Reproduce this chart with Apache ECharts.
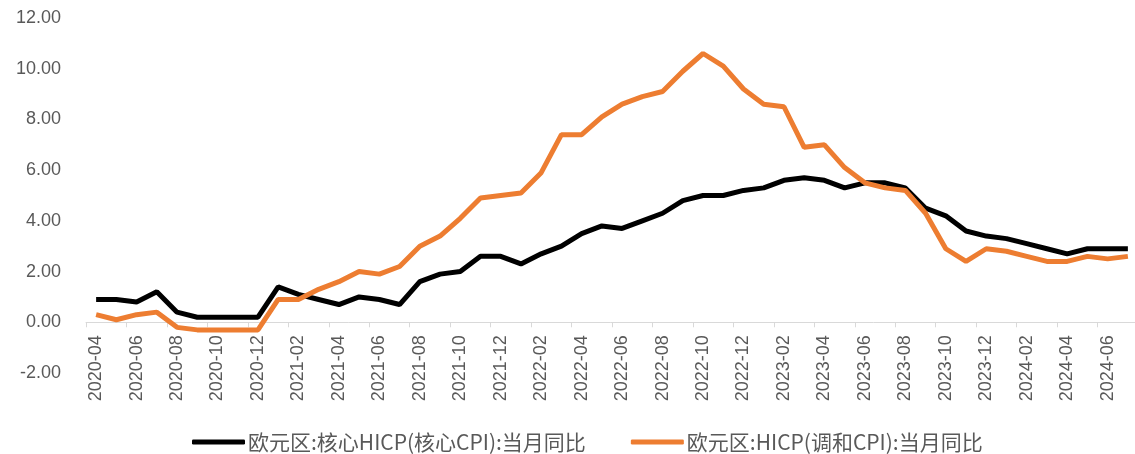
<!DOCTYPE html>
<html>
<head>
<meta charset="utf-8">
<script src="https://cdn.jsdelivr.net/npm/echarts@6/dist/echarts.min.js"></script>
<style>html,body{margin:0;padding:0;background:#fff}#c{width:1135px;height:454px}</style>
</head>
<body>
<div id="c"></div>
<script>
const months = ["2020-04","2020-05","2020-06","2020-07","2020-08","2020-09","2020-10","2020-11","2020-12",
"2021-01","2021-02","2021-03","2021-04","2021-05","2021-06","2021-07","2021-08","2021-09","2021-10","2021-11","2021-12",
"2022-01","2022-02","2022-03","2022-04","2022-05","2022-06","2022-07","2022-08","2022-09","2022-10","2022-11","2022-12",
"2023-01","2023-02","2023-03","2023-04","2023-05","2023-06","2023-07","2023-08","2023-09","2023-10","2023-11","2023-12",
"2024-01","2024-02","2024-03","2024-04","2024-05","2024-06","2024-07"];
const coreName = "欧元区:核心HICP(核心CPI):当月同比";
const hicpName = "欧元区:HICP(调和CPI):当月同比";
const coreHICP = [0.9,0.9,0.8,1.2,0.4,0.2,0.2,0.2,0.2,
1.4,1.1,0.9,0.7,1.0,0.9,0.7,1.6,1.9,2.0,2.6,2.6,
2.3,2.7,3.0,3.5,3.8,3.7,4.0,4.3,4.8,5.0,5.0,5.2,
5.3,5.6,5.7,5.6,5.3,5.5,5.5,5.3,4.5,4.2,3.6,3.4,
3.3,3.1,2.9,2.7,2.9,2.9,2.9];
const hicp = [0.3,0.1,0.3,0.4,-0.2,-0.3,-0.3,-0.3,-0.3,
0.9,0.9,1.3,1.6,2.0,1.9,2.2,3.0,3.4,4.1,4.9,5.0,
5.1,5.9,7.4,7.4,8.1,8.6,8.9,9.1,9.9,10.6,10.1,9.2,
8.6,8.5,6.9,7.0,6.1,5.5,5.3,5.2,4.3,2.9,2.4,2.9,
2.8,2.6,2.4,2.4,2.6,2.5,2.6];

const gridTop = 18, gridHeight = 355, yMin = -2, yMax = 12;
const zeroOffset = -gridHeight * (0 - yMin) / (yMax - yMin);

const chart = echarts.init(document.getElementById('c'));
chart.setOption({
  animation: false,
  backgroundColor: '#fff',
  grid: { left: 86, top: gridTop, width: 1052, height: gridHeight, containLabel: false, outerBoundsMode: 'none' },
  legend: {
    top: 431, left: 192, itemGap: 45, itemWidth: 53, itemHeight: 5, padding: 0,
    textStyle: { fontSize: 21, lineHeight: 22, color: '#595959', fontFamily: 'Noto Sans CJK SC', padding: [0,0,0,-2] },
    data: [
      { name: coreName, icon: 'roundRect' },
      { name: hicpName, icon: 'roundRect' }
    ]
  },
  xAxis: {
    type: 'category', data: months, boundaryGap: true, offset: zeroOffset,
    axisLine: { onZero: false, lineStyle: { color: '#D9D9D9', width: 1 } },
    axisTick: { show: true, interval: 1, length: 5, lineStyle: { color: '#D9D9D9' } },
    axisLabel: { interval: 1, rotate: 90, margin: 13, fontSize: 18, color: '#595959', fontFamily: 'Liberation Sans' },
    splitLine: { show: false }
  },
  yAxis: {
    type: 'value', min: yMin, max: yMax, interval: 2,
    axisLine: { show: false }, axisTick: { show: false }, splitLine: { show: false },
    axisLabel: { formatter: v => v.toFixed(2), margin: 25, fontSize: 18, color: '#595959', fontFamily: 'Liberation Sans' }
  },
  series: [
    { name: coreName, type: 'line', data: coreHICP, symbol: 'none', lineStyle: { color: '#000000', width: 5 }, itemStyle: { color: '#000000' } },
    { name: hicpName, type: 'line', data: hicp, symbol: 'none', lineStyle: { color: '#ED7D31', width: 5 }, itemStyle: { color: '#ED7D31' } }
  ]
});
</script>
</body>
</html>
